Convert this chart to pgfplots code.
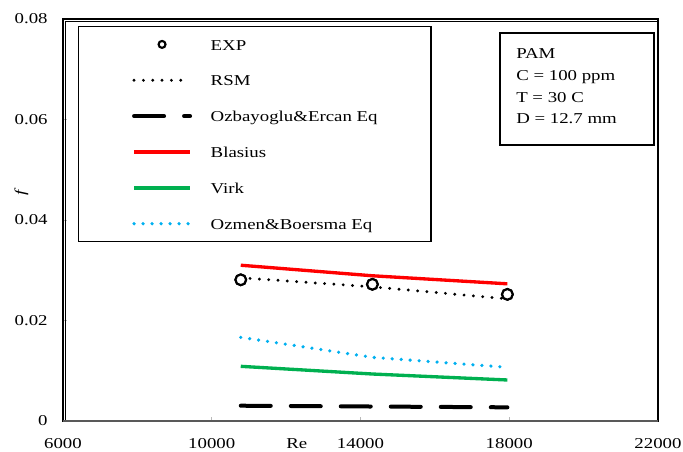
\documentclass[border=0pt]{standalone}
\usepackage{fontspec}
\setmainfont{Liberation Serif}[FakeStretch=1.25]
\usepackage{pgfplots}
\pgfplotsset{compat=1.18}
\definecolor{blasred}{RGB}{255,0,0}
\definecolor{virkgreen}{RGB}{0,176,80}
\definecolor{ozblue}{RGB}{0,176,240}

\begin{document}
\begin{tikzpicture}
\begin{axis}[
  scale only axis,
  width=446.25pt, height=301.5pt,
  xmin=6000, xmax=22000, ymin=0, ymax=0.08,
  xtick={6000,10000,14000,18000,22000},
  xticklabels={6000,10000,14000,18000,22000},
  ytick={0,0.02,0.04,0.06,0.08},
  yticklabels={0,0.02,0.04,0.06,0.08},
  scaled x ticks=false, scaled y ticks=false,
  xtick pos=bottom, ytick pos=left,
  tick align=inside,
  major tick length=3pt,
  tick style={gray!55, line width=0.5pt},
  axis line style={line width=0.8pt, black},
  font=\fontsize{11.3}{13.5}\selectfont,
  xticklabel style={yshift=-9.5pt},
  yticklabel style={xshift=-8pt},
  xlabel={Re},
  xlabel style={at={(rel axis cs:0.393,0)}, anchor=north, yshift=-9.5pt},
  ylabel={\textit{f}},
  ylabel style={at={(rel axis cs:-0.07,0.57)}, anchor=center},
  legend cell align=left,
  legend style={at={(rel axis cs:0.0252,0.9826)}, anchor=north west,
    draw=black, line width=1.1pt, inner xsep=40pt, inner ysep=8pt,
    row sep=16.4pt,
    nodes={inner sep=0pt, text height=9.5pt, text depth=1pt},
    /tikz/every odd column/.append style={column sep=14pt},
    font=\fontsize{11.3}{13.5}\selectfont},
  legend image code/.code={\draw[mark repeat=2, mark phase=2, #1] plot coordinates {(0pt,0pt) (21pt,0pt) (42pt,0pt)};},
]
% EXP (legend entry; drawn again on top at the end)
\addplot[only marks, mark=*, mark size=4pt, mark options={fill=white, draw=black, line width=1.6pt},
  legend image code/.code={\draw[black, line width=1.6pt] (21pt,0pt) circle (2.6pt);}]
  coordinates {(10780,0.0281) (14320,0.0272) (17950,0.0252)};
\addlegendentry{\makebox[124pt][l]{EXP}}
% RSM
\addplot[black, line width=2.4pt, line cap=round, dash pattern=on 0pt off 7pt]
  coordinates {(10780,0.0285) (14320,0.0267) (17950,0.0243)};
\addlegendentry{RSM}
% Ozbayoglu & Ercan
\addplot[black, line width=3pt, line cap=round, dash pattern=on 22.5pt off 15pt]
  coordinates {(10780,0.00304) (14320,0.00288) (17950,0.00272)};
\addlegendentry{Ozbayoglu\&Ercan Eq}
% Blasius
\addplot[blasred, line width=2.5pt]
  coordinates {(10780,0.0310) (14320,0.0289) (17950,0.0273)};
\addlegendentry{Blasius}
% Virk
\addplot[virkgreen, line width=2.5pt]
  coordinates {(10780,0.01088) (14320,0.00935) (17950,0.00816)};
\addlegendentry{Virk}
% Ozmen & Boersma
\addplot[ozblue, line width=2.7pt, line cap=round, dash pattern=on 0pt off 6.75pt]
  coordinates {(10780,0.01665) (14320,0.01267) (17950,0.01068)};
\addlegendentry{Ozmen\&Boersma Eq}
% EXP on top
\addplot[only marks, mark=*, mark size=4pt, mark options={fill=white, draw=black, line width=1.6pt}, forget plot]
  coordinates {(10780,0.0281) (14320,0.0272) (17950,0.0252)};
\end{axis}
% plot-area border details
\draw[line width=0.7pt] (1.8pt,0pt) -- (1.8pt,299.7pt) -- (446.25pt,299.7pt);
\draw[line width=1.6pt] (446.25pt,0pt) -- (446.25pt,301.5pt);
\draw[gray!70!black, line width=1.4pt] (0pt,0pt) -- (446.25pt,0pt);
% info box
\draw[line width=1.1pt] (327.75pt,291pt) rectangle (443.25pt,207pt);
\node[anchor=north west, inner sep=0pt, align=left, font=\fontsize{11.3}{16.3}\selectfont]
  at (339.75pt,279.5pt) {PAM\\C = 100 ppm\\T = 30 C\\D = 12.7 mm};
\pgfresetboundingbox
\useasboundingbox (-47.25pt,-23.25pt) rectangle (465pt,315.75pt);
\end{tikzpicture}
\end{document}
